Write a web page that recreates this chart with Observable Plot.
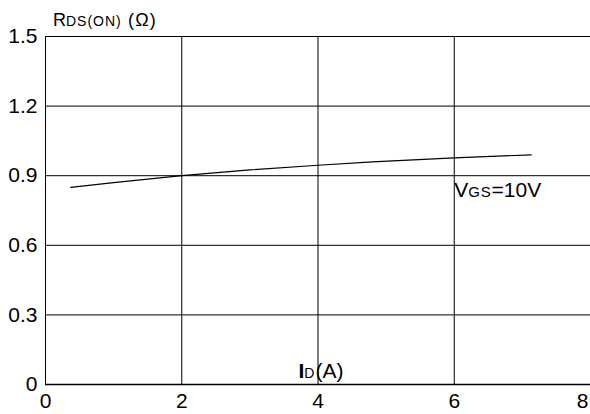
<!DOCTYPE html>
<html><head><meta charset="utf-8">
<script src="https://cdn.jsdelivr.net/npm/d3@7"></script>
<script src="https://cdn.jsdelivr.net/npm/@observablehq/plot@0.6"></script>
<style>
  html,body{margin:0;padding:0;background:#fff;}
  #chart svg{display:block;}
</style>
</head><body><div id="chart"></div>
<script>
// Drain current I_D (A) and on-resistance R_DS(ON) (Ω), VGS = 10 V
const currentA = [0.37, 1.0, 2.0, 3.0, 4.0, 4.8, 6.0, 7.13];
const rdsOhm   = [0.85, 0.87, 0.90, 0.925, 0.945, 0.96, 0.977, 0.99];
const xTicks = [0, 2, 4, 6, 8];
const yTicks = [0, 0.3, 0.6, 0.9, 1.2, 1.5];
const yTickLabels = ["0", "0.3", "0.6", "0.9", "1.2", "1.5"];
const yTitleParts = ["R", "DS(ON)", " (Ω)"];
const xTitleParts = ["I", "D", "(A)"];
const curveLabelParts = ["V", "GS", "=10V"];

const points = currentA.map((x, i) => ({x, y: rdsOhm[i]}));
const font = "'Liberation Sans', Arial, Helvetica, sans-serif";

const chart = Plot.plot({
  width: 590,
  height: 414,
  marginLeft: 45,
  marginRight: 0,
  marginTop: 36,
  marginBottom: 30,
  style: {fontFamily: font, fontSize: "21px", color: "#000", background: "#fff", overflow: "visible"},
  x: {domain: [0, 8]},
  y: {domain: [0, 1.5]},
  marks: [
    Plot.ruleY(yTicks.slice(1), {stroke: "#000", strokeWidth: 1}),
    Plot.ruleX(xTicks.slice(0, 4), {stroke: "#000", strokeWidth: 1}),
    Plot.ruleY([0], {stroke: "#000", strokeWidth: 1.6}),
    Plot.line(points, {x: "x", y: "y", stroke: "#000", strokeWidth: 1.2}),
    Plot.axisY(yTicks, {tickSize: 0, tickPadding: 8, fontSize: 21, tickFormat: (d, i) => yTickLabels[i], label: null}),
    Plot.axisX(xTicks.slice(0, 4), {tickSize: 0, tickPadding: 9, fontSize: 21, label: null}),
    Plot.axisX(xTicks.slice(4), {tickSize: 0, tickPadding: 9, fontSize: 21, textAnchor: "end", dx: -2, label: null}),
    Plot.text([yTitleParts.join("")], {x: 0.11, y: 1.547, text: d => d, textAnchor: "start", lineAnchor: "bottom", fontSize: 18, clip: false}),
    Plot.text([xTitleParts.join("")], {x: 3.714, y: 0.03, text: d => d, textAnchor: "start", lineAnchor: "bottom", fontSize: 21}),
    Plot.text([curveLabelParts.join("")], {x: 6, y: 0.808, text: d => d, textAnchor: "start", lineAnchor: "bottom", fontSize: 21})
  ]
});

function richText(svg, parts, subSize, subSpacing, restSpacing, boldFirst) {
  const full = parts.join("");
  svg.querySelectorAll("text").forEach(t => {
    if (t.textContent === full) {
      t.textContent = "";
      parts.forEach((p, i) => {
        const ts = document.createElementNS("http://www.w3.org/2000/svg", "tspan");
        ts.textContent = p;
        if (i === 1) {
          ts.setAttribute("font-size", subSize);
          ts.setAttribute("letter-spacing", subSpacing);
        }
        if (i === 2) ts.setAttribute("letter-spacing", restSpacing);
        if (i === 0 && boldFirst) ts.setAttribute("font-weight", "bold");
        t.appendChild(ts);
      });
    }
  });
}
richText(chart, yTitleParts, 14, 1, 1.2, false);
richText(chart, xTitleParts, 14, 1, 0, true);
richText(chart, curveLabelParts, 15, 0.8, 0, false);

document.getElementById("chart").appendChild(chart);
</script>
</body></html>
